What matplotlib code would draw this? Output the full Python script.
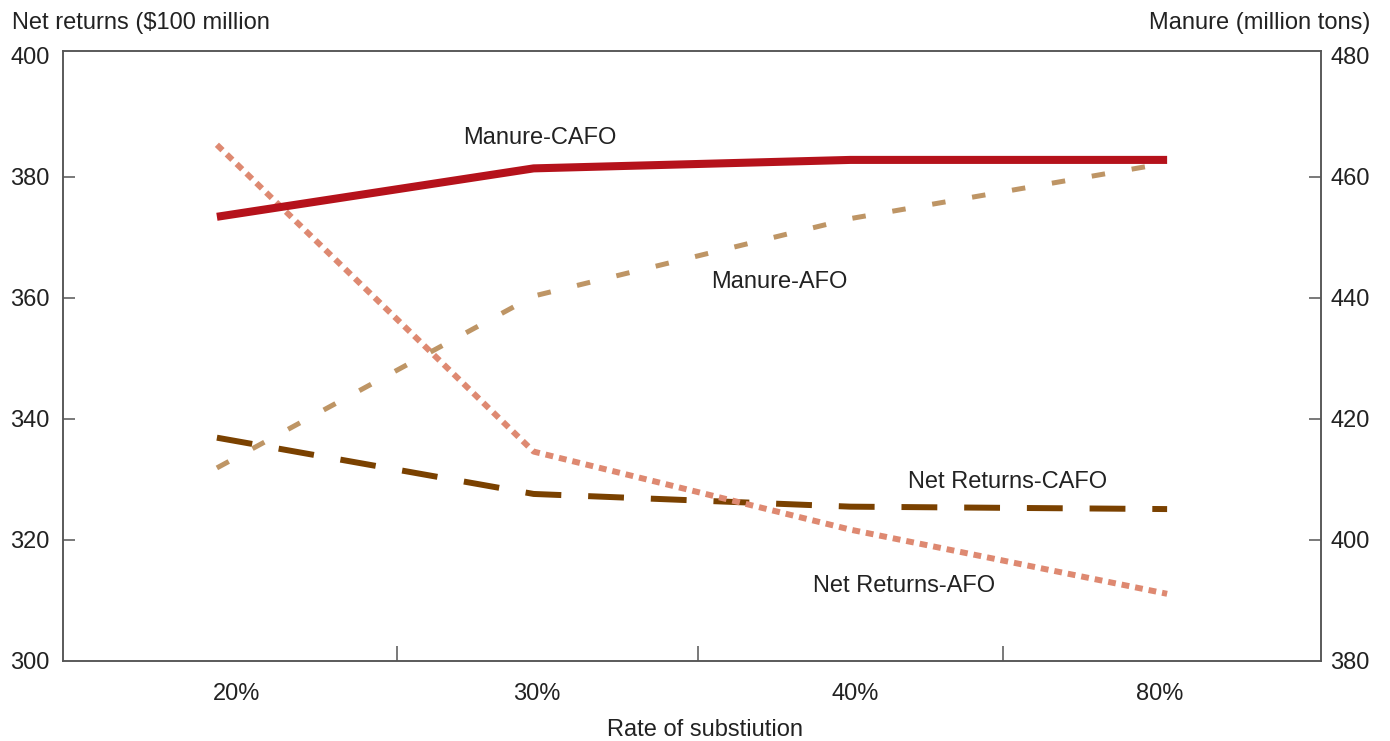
import numpy as np
import matplotlib.pyplot as plt

# Data
rates = ['20%', '30%', '40%', '80%']
net_returns_cafo = [336.9, 327.6, 325.5, 325.1]   # $100 million (left axis)
net_returns_afo = [385.3, 334.6, 321.7, 311.1]    # $100 million (left axis)
manure_cafo = [453.4, 461.4, 462.8, 462.8]        # million tons (right axis)
manure_afo = [411.9, 440.3, 453.1, 462.3]         # million tons (right axis)

left_ticks = [300, 320, 340, 360, 380, 400]
right_ticks = [380, 400, 420, 440, 460, 480]

plt.rcParams['font.family'] = ['Liberation Sans', 'DejaVu Sans']
plt.rcParams['font.size'] = 17
txt = '#222222'
spine_col = '#555555'

fig = plt.figure(figsize=(13.9, 7.41), dpi=100, facecolor='white')
ax = fig.add_axes([0.0453, 0.108, 0.9051, 0.8232])
ax2 = ax.twinx()

x = np.arange(len(rates))

# Left axis: net returns
ax.plot(x, net_returns_cafo, color='#7A4100', lw=4.3, dashes=(6, 4.5))
ax.plot(x, net_returns_afo, color='#DE8971', lw=4.3, dashes=(1.3, 1.0))

# Right axis: manure
ax2.plot(x, manure_cafo, color='#B5121B', lw=5.8, solid_capstyle='butt')
ax2.plot(x, manure_afo, color='#BE9565', lw=3.6, dashes=(2.7, 5.4))

ax.set_xlim(-0.486, 3.486)
ax.set_ylim(300, 400.8)
ax2.set_ylim(380, 480.8)

ax.set_yticks(left_ticks)
ax2.set_yticks(right_ticks)

# category boundaries as major ticks, labels on minor ticks
# (the source chart's labels sit slightly off the data points)
ax.set_xticks([0.568, 1.519, 2.482])
ax.set_xticklabels([])
ax.set_xticks([0.063, 1.01, 2.015, 2.978], minor=True)
ax.set_xticklabels(rates, minor=True)
ax.tick_params(axis='x', which='major', direction='in', length=11, width=1.1,
               color=spine_col)
ax.tick_params(axis='x', which='minor', length=0, pad=16, labelcolor=txt)
ax.tick_params(axis='y', direction='in', length=8.6, width=1.1, color=spine_col,
               pad=9.4, labelcolor=txt)
ax2.tick_params(axis='y', direction='in', length=8.6, width=1.1, color=spine_col,
                pad=6.5, labelcolor=txt)

# no tick marks at the ends of the value axes
for a in (ax, ax2):
    yt = a.yaxis.get_major_ticks()
    for t in (yt[0], yt[-1]):
        t.tick1line.set_visible(False)
        t.tick2line.set_visible(False)
    for s in a.spines.values():
        s.set_color(spine_col)
        s.set_linewidth(1.1)

ax.set_xlabel('Rate of substiution', color=txt, va='center')
ax.xaxis.set_label_coords(0.51, -0.113)

# Axis titles
fig.text(12 / 1390, 1 - 23 / 741, 'Net returns ($100 million', ha='left',
         va='center', color=txt)
fig.text(1370 / 1390, 1 - 23 / 741, 'Manure (million tons)', ha='right',
         va='center', color=txt)

# Series labels
ax.text(1.02, 386.4, 'Manure-CAFO', ha='center', va='center', color=txt)
ax.text(1.775, 362.6, 'Manure-AFO', ha='center', va='center', color=txt)
ax.text(2.495, 329.6, 'Net Returns-CAFO', ha='center', va='center', color=txt)
ax.text(2.17, 312.4, 'Net Returns-AFO', ha='center', va='center', color=txt)

plt.savefig('out.png', dpi=100, facecolor='white')
